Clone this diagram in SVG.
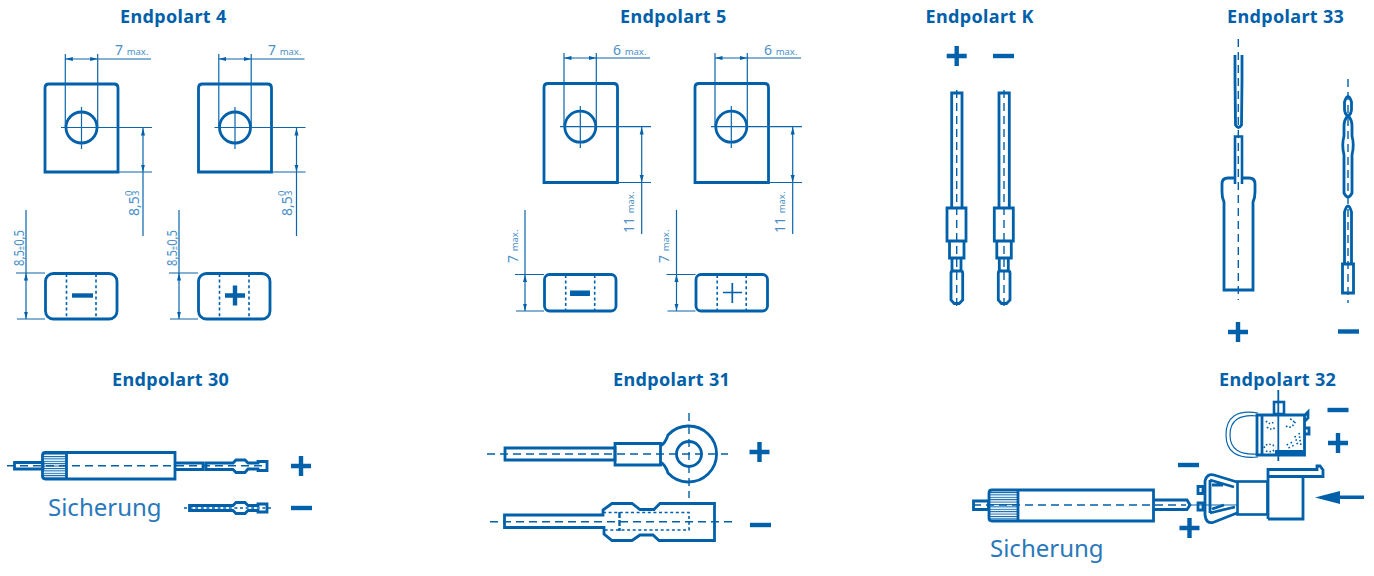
<svg xmlns="http://www.w3.org/2000/svg" width="1374" height="576" viewBox="0 0 1374 576">
<style>
.h{font:bold 18px "Noto Sans","Liberation Sans",sans-serif;letter-spacing:.35px;fill:#0060a9}
.s{font:24px "Noto Sans","Liberation Sans",sans-serif;fill:#2a78ba}
.m{font:14px "Noto Sans","Liberation Sans",sans-serif;fill:#4a8fc8}
.m2{font-size:9.500px}
.o{fill:none;stroke:#0060a9;stroke-width:2.800}
.w{fill:#fff;stroke:#0060a9;stroke-width:2.600}
.t{fill:none;stroke:#0a66ad;stroke-width:1.200}
.c{fill:none;stroke:#0060a9;stroke-width:1.400;stroke-dasharray:8 5}
.q{fill:none;stroke:#0060a9;stroke-width:1.600;stroke-dasharray:3 2.600}
.d{fill:none;stroke:#0060a9;stroke-width:1.700;stroke-dasharray:1.500 2}
.p{fill:#0060a9}
.a{fill:none;stroke:#0a66ad;stroke-width:1.200}
</style>
<defs>
<marker id="ae" markerUnits="userSpaceOnUse" markerWidth="8" markerHeight="6" refX="7.500" refY="3" orient="auto"><path d="M0 1L7.500 3L0 5z" fill="#0060a9"/></marker>
<marker id="as" markerUnits="userSpaceOnUse" markerWidth="8" markerHeight="6" refX="0.500" refY="3" orient="auto"><path d="M8 1L0.500 3L8 5z" fill="#0060a9"/></marker>
<pattern id="kn" width="4" height="2.400" patternUnits="userSpaceOnUse"><rect width="4" height="1" fill="#0060a9"/></pattern>
<path id="plus" d="M-10-2.200H-2.200V-10H2.200V-2.200H10V2.200H2.200V10H-2.200V2.200H-10z" class="p"/>
<rect id="minus" x="-10.500" y="-2.200" width="21" height="4.400" class="p"/>
<g id="top4">
<path class="o" d="M45 172V88q0-4 4-4h65q4 0 4 4v84z"/>
<circle class="o" cx="81.500" cy="127.500" r="15.500"/>
<path class="t" d="M65.300 54V127M97.700 54V127M97.700 59H151M61 127.500H152M81.500 107V149M118 172H152M143 172V236"/>
<path class="a" marker-start="url(#as)" marker-end="url(#ae)" d="M65.300 59H97.700"/>
<path class="a" marker-start="url(#as)" marker-end="url(#ae)" d="M143 128V172"/>
</g>
<g id="low4">
<rect class="o" x="45.500" y="273.500" width="71.500" height="45.500" rx="8"/>
<path class="q" d="M66.500 274V319M96 274V319"/>
<path class="t" d="M16 273H45M17 319H45M26 210V273"/>
<path class="a" marker-start="url(#as)" marker-end="url(#ae)" d="M26 273V319"/>
</g>
<g id="top5">
<path class="o" d="M544 182.500V87.500q0-4 4-4h65.500q4 0 4 4V182.500z"/>
<circle class="o" cx="580.300" cy="126.700" r="15.500"/>
<path class="t" d="M564 53V126M596.300 53V126M596.300 58H650M560 126.700H651M580.300 106V148M617 182.500H651M641.700 182.500V234"/>
<path class="a" marker-start="url(#as)" marker-end="url(#ae)" d="M564 58H596.300"/>
<path class="a" marker-start="url(#as)" marker-end="url(#ae)" d="M641.700 127V182.500"/>
</g>
<g id="low5">
<rect class="o" x="544.500" y="274.500" width="71.500" height="36.500" rx="5"/>
<path class="q" d="M565.700 275V311M594.700 275V311"/>
<path class="t" d="M515 274.500H544M516 311H544M525 210V274"/>
<path class="a" marker-start="url(#as)" marker-end="url(#ae)" d="M525 274.500V311"/>
</g>
<g id="pinK">
<path class="c" d="M956.700 90V308"/>
<path class="o" d="M951.700 208V93H962V208M947 208H966V241H947zM949.500 241H964V258H949.500zM952 258V271M961 258V271M951 273q0-2 2-2h7.700q2 0 2 2V300l-3.500 3.500h-5l-3.200-3.500z"/>
</g>
</defs>

<g id="endpolart-4">
<text class="h" x="120" y="23">Endpolart 4</text>
<use href="#top4"/><use href="#low4"/>
<use href="#top4" x="153.500"/><use href="#low4" x="153"/>
<use href="#minus" x="82.500" y="295.500"/><use href="#plus" x="235" y="295.500"/>
<text class="m" x="115" y="55">7 <tspan class="m2">max.</tspan></text>
<text class="m" x="268" y="55">7 <tspan class="m2">max.</tspan></text>
<g transform="translate(139 216) rotate(-90)"><text class="m">8,5</text><text class="m m2" x="20" y="-7">0</text><text class="m m2" x="20" y="0">3</text></g>
<g transform="translate(292 216) rotate(-90)"><text class="m">8,5</text><text class="m m2" x="20" y="-7">0</text><text class="m m2" x="20" y="0">3</text></g>
<text class="m" transform="translate(23.500 266) rotate(-90)" textLength="36" lengthAdjust="spacingAndGlyphs">8,5<tspan class="m2">±</tspan>0,5</text>
<text class="m" transform="translate(176.500 266) rotate(-90)" textLength="36" lengthAdjust="spacingAndGlyphs">8,5<tspan class="m2">±</tspan>0,5</text>
</g>

<g id="endpolart-5">
<text class="h" x="620" y="23">Endpolart 5</text>
<use href="#top5"/><use href="#low5"/>
<use href="#top5" x="151"/><use href="#low5" x="151.500"/>
<rect class="p" x="570" y="290.500" width="20" height="5.500"/>
<path d="M723 292.500H742M732.300 283V303" fill="none" stroke="#0060a9" stroke-width="1.700"/>
<text class="m" x="613" y="55">6 <tspan class="m2">max.</tspan></text>
<text class="m" x="764" y="55">6 <tspan class="m2">max.</tspan></text>
<text class="m" transform="translate(634 233) rotate(-90)">11 <tspan class="m2">max.</tspan></text>
<text class="m" transform="translate(785 233) rotate(-90)">11 <tspan class="m2">max.</tspan></text>
<text class="m" transform="translate(518 263) rotate(-90)">7 <tspan class="m2">max.</tspan></text>
<text class="m" transform="translate(669 263) rotate(-90)">7 <tspan class="m2">max.</tspan></text>
</g>

<g id="endpolart-k">
<text class="h" x="925.500" y="23">Endpolart K</text>
<use href="#plus" x="956.700" y="56"/><use href="#minus" x="1003.500" y="56"/>
<use href="#pinK"/><use href="#pinK" x="47.300"/>
</g>

<g id="endpolart-33">
<text class="h" x="1227" y="23">Endpolart 33</text>
<path class="o" d="M1235 55V80L1235.500 125Q1238.500 130 1241.500 125L1242 80V55"/>
<path class="o" d="M1222 192V184q0-6 6-6H1249q6 0 6 6V192Q1255 198 1253 202V290H1224V202Q1222 198 1222 192z"/>
<path class="w" d="M1235 184V136.500H1242V184"/>
<path class="c" d="M1238.300 39V300"/>
<use href="#plus" x="1238" y="332"/>
<path class="o" d="M1344.500 102Q1348 91 1351.500 102V110Q1351.500 113 1348.500 116Q1352 120 1352 126V136Q1354.500 145 1352 155V193Q1348 201 1344 193V155Q1341.500 145 1344 136V126Q1344 120 1347.500 116Q1344.500 113 1344.500 110z"/>
<path class="o" d="M1344.500 264V212Q1348 200 1351.500 212V264M1342.500 264H1353.500V293H1342.500z"/>
<path class="c" d="M1348 79V303"/>
<use href="#minus" x="1348.500" y="331.500"/>
</g>

<g id="endpolart-30">
<text class="h" x="112" y="386">Endpolart 30</text>
<path class="o" d="M14.500 462.500H43V469H14.500z"/>
<rect x="43" y="453" width="23" height="25.500" fill="url(#kn)"/>
<path class="o" d="M66.500 452.500V479M45.500 452.500H175V479H45.500q-3 0-3-3V455.500q0-3 3-3z"/>
<path class="o" d="M175 463H203V469.500H175M206 463H233L236 460H245L248 463H258V461.500H267V470.500H258V469H248L245 472.500H236L233 469.500H206z"/>
<path class="c" d="M7 465.700H262"/>
<use href="#plus" x="301" y="466"/>
<text class="s" x="48" y="516">Sicherung</text>
<path class="o" d="M189.500 505.500H233L236 502.500H245L248 505.500H258V504H267V512H258V510.500H248L245 513.500H236L233 510.500H189.500z"/>
<path class="q" d="M184 508H272"/>
<use href="#minus" x="301.500" y="508"/>
</g>

<g id="endpolart-31">
<text class="h" x="613" y="386">Endpolart 31</text>
<path class="o" d="M505 448H615V460H505z"/>
<path class="o" d="M615 443.500H660.500V465H615zM660.500 446Q665.500 443 668 435A28 28 0 1 1 668 473Q665.500 465 660.500 462"/>
<circle class="o" cx="689" cy="454" r="12.500"/>
<path class="c" d="M487 454H728M689 413V498"/>
<use href="#plus" x="759.500" y="452"/>
<path class="o" d="M504.500 515H603V510L612 503.500H632L640 509.500H654L660 503.500H714.500V540.500H659L653 535H640L632 540.500H612L604 534V527.500H504.500z"/>
<path class="q" d="M603 512.500H689V530H603"/>
<path d="M619.500 512V531" stroke="#0060a9" stroke-width="2.400" stroke-dasharray="6 2" fill="none"/>
<path class="c" d="M490 521.700H733"/>
<use href="#minus" x="760.500" y="525"/>
</g>

<g id="endpolart-32">
<text class="h" x="1219" y="386">Endpolart 32</text>
<path class="o" d="M973.500 501H988.500V509.500H973.500z"/>
<rect x="990" y="491" width="27" height="29" fill="url(#kn)"/>
<path class="o" d="M1018 490V521M992 490H1153.500V521H992q-3 0-3-3V493q0-3 3-3z"/>
<path class="o" d="M1153.500 500H1187L1190 505L1187 509.500H1153.500"/>
<path class="c" d="M973 505H1186"/>
<path class="t" d="M1190 505H1237"/>
<text class="s" x="990" y="557">Sicherung</text>
<use href="#minus" x="1188.500" y="465"/>
<use href="#plus" x="1189.500" y="528"/>
<path class="o" d="M1198 486.500H1203V493.500H1198zM1198 503H1203V510H1198z"/>
<path class="o" d="M1237 482L1214 475Q1207 473 1205 481V515Q1206 524 1213 522.500L1237 513"/>
<path class="o" d="M1210 480L1234 487M1210 513L1235 507M1210 480V513M1212 485H1223M1212 509L1224 505"/>
<rect class="w" x="1237.500" y="481.500" width="30" height="33"/>
<path class="o" d="M1268 519V469.500H1317V466H1320L1323 470V476.500H1268"/>
<path class="o" d="M1303 476V519H1268"/>
<path class="p" d="M1315 497.500L1340 491V495.500H1364V499H1340V504z"/>
<path class="t" stroke-width="2" d="M1258 413Q1226 408 1226 435Q1226 460 1258 457M1258 416Q1230 413 1230 435Q1230 456 1258 454"/>
<path class="o" d="M1257 415H1304.500V455H1257zM1262 416V454M1305 415L1308 412V418L1304 422M1305 428H1309V434H1305"/>
<rect class="p" x="1275" y="450" width="29" height="5"/>
<rect class="w" x="1274" y="402" width="10" height="12"/>
<path d="M1278.300 390V461" fill="none" stroke="#0060a9" stroke-width="1.800"/>
<path class="d" d="M1266 421q4 5 9 0M1267 427q4 4 9 0M1264 448q3-7 12-1M1266 451q5 2 10-2M1286 426q6 4 10-6M1290 419q3 1 4 3M1287 444l3 5M1291 442l3 6M1295 436l3 10M1299 433l2 13"/>
<use href="#minus" x="1338" y="410"/>
<use href="#plus" x="1338" y="443"/>
</g>
</svg>
